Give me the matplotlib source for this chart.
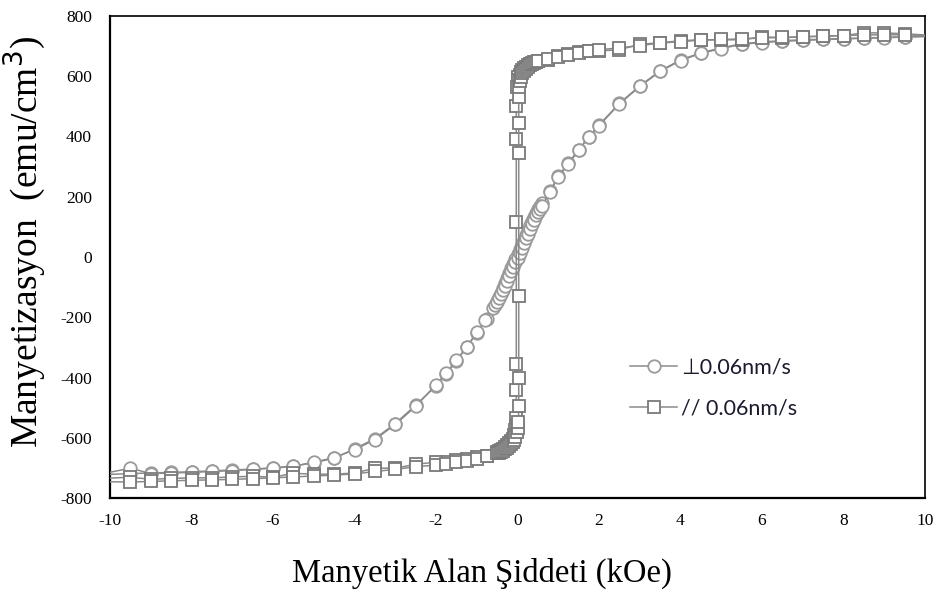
import matplotlib
matplotlib.use("Agg")
import matplotlib.pyplot as plt
from matplotlib.lines import Line2D

# Perpendicular sample (circles), field swept +10 -> -10
perp_x_down = [10.5, 9.5, 9, 8.5, 8, 7.5, 7, 6.5, 6, 5.5, 5, 4.5, 4, 3.5, 3, 2.5, 2, 1.75, 1.5, 1.25, 1,
               0.8, 0.6, 0.55, 0.5, 0.45, 0.4, 0.35, 0.3, 0.25, 0.2, 0.15, 0.1, 0.05, 0, -0.05, -0.1,
               -0.15, -0.2, -0.25, -0.3, -0.35, -0.4, -0.45, -0.5, -0.75, -1, -1.25, -1.5, -1.75, -2,
               -2.5, -3, -3.5, -4, -4.5, -5, -5.5, -6, -6.5, -7, -7.5, -8, -8.5, -9, -9.5, -10.5]
perp_y_down = [735, 731, 729, 727, 725, 723, 721, 718, 714, 708, 694, 678, 654, 618, 568, 510, 438, 399, 356, 312, 269,
               219, 178, 168, 158, 146, 133, 120, 105, 90, 74, 58, 42, 26, 10, -6, -22,
               -38, -54, -70, -86, -102, -118, -132, -146, -205, -252, -300, -345, -388, -428,
               -492, -553, -603, -637, -668, -683, -694, -700, -704, -707, -710, -713, -715, -717, -719, -724]

# Perpendicular sample (circles), field swept -10 -> +10
perp_x_up = [-10.5, -9.5, -9, -8.5, -8, -7.5, -7, -6.5, -6, -5.5, -5, -4.5, -4, -3.5, -3, -2.5, -2, -1.75, -1.5,
             -1.25, -1, -0.8, -0.6, -0.55, -0.5, -0.45, -0.4, -0.35, -0.3, -0.25, -0.2, -0.15, -0.1, -0.05,
             0, 0.05, 0.1, 0.15, 0.2, 0.25, 0.3, 0.35, 0.4, 0.45, 0.5, 0.55, 0.6, 0.8, 1, 1.25, 1.5, 1.75,
             2, 2.5, 3, 3.5, 4, 4.5, 5, 5.5, 6, 6.5, 7, 7.5, 8, 8.5, 9, 9.5, 10.5]
perp_y_up = [-728, -701, -719, -717, -715, -712, -709, -705, -701, -695, -681, -666, -640, -606, -556, -496, -424, -386, -342,
             -300, -250, -210, -168, -158, -148, -136, -123, -109, -95, -80, -64, -48, -32, -16,
             -2, 14, 30, 46, 62, 78, 94, 110, 124, 138, 150, 160, 170, 216, 266, 310, 354, 398,
             436, 508, 566, 616, 652, 676, 692, 706, 712, 716, 719, 722, 724, 726, 728, 730, 733]

# In-plane sample (squares), field swept +10 -> -10
par_x_down = [10.5, 9.5, 9, 8.5, 8, 7.5, 7, 6.5, 6, 5.5, 5, 4.5, 4, 3.5, 3, 2.5, 2, 1.75, 1.5, 1.25, 1, 0.75,
              0.5, 0.45, 0.4, 0.35, 0.3, 0.25, 0.2, 0.16, 0.12, 0.08, 0.05, 0.02, 0, -0.02, -0.03, -0.03,
              -0.03, -0.03, -0.03, -0.03, -0.04, -0.05, -0.08, -0.12, -0.16, -0.2, -0.25, -0.3, -0.35, -0.4,
              -0.45, -0.5, -0.75, -1, -1.25, -1.5, -1.75, -2, -2.5, -3, -3.5, -4, -4.5, -5, -5.5, -6,
              -6.5, -7, -7.5, -8, -8.5, -9, -9.5, -10.5]
par_y_down = [733, 741, 744, 744, 735, 733, 731, 728, 731, 721, 721, 721, 718, 711, 706, 688, 684, 684, 681, 674, 668, 654,
              650, 648, 646, 643, 640, 636, 632, 627, 621, 614, 605, 596, 588, 565, 502, 392,
              116, -355, -442, -535, -560, -575, -590, -603, -612, -618, -625, -630, -636, -641,
              -645, -648, -661, -665, -671, -675, -681, -681, -688, -701, -701, -717, -721, -721, -718, -731,
              -728, -730, -733, -733, -735, -738, -731, -737]

# In-plane sample (squares), field swept -10 -> +10
par_x_up = [-10.5, -9.5, -9, -8.5, -8, -7.5, -7, -6.5, -6, -5.5, -5, -4.5, -4, -3.5, -3, -2.5, -2, -1.75, -1.5,
            -1.25, -1, -0.75, -0.5, -0.45, -0.4, -0.35, -0.3, -0.25, -0.2, -0.16, -0.12, -0.08, -0.05,
            -0.02, 0, 0.02, 0.03, 0.03, 0.03, 0.03, 0.03, 0.03, 0.04, 0.05, 0.08, 0.12, 0.16, 0.2, 0.25,
            0.3, 0.35, 0.4, 0.45, 0.5, 0.75, 1, 1.25, 1.5, 1.75, 2, 2.5, 3, 3.5, 4, 4.5, 5, 5.5, 6,
            6.5, 7, 7.5, 8, 8.5, 9, 9.5, 10.5]
par_y_up = [-745, -747, -745, -743, -741, -740, -738, -736, -733, -730, -727, -724, -720, -712, -705, -696, -691, -686, -680,
            -676, -670, -662, -652, -650, -647, -643, -639, -634, -628, -622, -615, -606, -597,
            -582, -568, -548, -495, -402, -130, 345, 445, 532, 565, 585, 598, 610, 618, 625, 631,
            637, 641, 645, 648, 651, 656, 664, 672, 678, 683, 688, 694, 702, 710, 715, 720, 722, 724, 727,
            729, 731, 733, 735, 737, 738, 737, 734]

x_ticks = [-10, -8, -6, -4, -2, 0, 2, 4, 6, 8, 10]
y_ticks = [-800, -600, -400, -200, 0, 200, 400, 600, 800]

line_col = '#8a8a8a'
circ_col = '#9a9a9a'
sq_col = '#7a7a7a'

fig = plt.figure(figsize=(9.42, 5.92), dpi=100)
ax = fig.add_axes([110 / 942, 1 - 498 / 592, 815 / 942, 482 / 592])

circ_style = dict(color=line_col, lw=1.1, marker='o', ms=9, mfc='white', mec=circ_col, mew=1.3)
sq_style = dict(color=line_col, lw=1.1, marker='s', ms=9, mfc='white', mec=sq_col, mew=1.3)

ax.plot(perp_x_down, perp_y_down, zorder=3, **circ_style)
ax.plot(perp_x_up, perp_y_up, zorder=3, **circ_style)
ax.plot(par_x_down, par_y_down, zorder=4, **sq_style)
ax.plot(par_x_up, par_y_up, zorder=4, **sq_style)

ax.set_xlim(-10, 10)
ax.set_ylim(-800, 800)
ax.set_xticks(x_ticks)
ax.set_yticks(y_ticks)
ax.set_xticklabels([str(t) for t in x_ticks], family='Liberation Serif', fontsize=12.5)
ax.set_yticklabels([str(t) for t in y_ticks], family='Liberation Serif', fontsize=12.5)
ax.tick_params(axis='x', length=0, pad=11)
ax.tick_params(axis='y', length=0, pad=13)

for side in ['left', 'bottom']:
    ax.spines[side].set_linewidth(1.6)
for side in ['top', 'right']:
    ax.spines[side].set_linewidth(1.2)

# axis titles placed in figure pixels (x title sits left of the axes centre)
fig.text(482 / 942, 1 - 573 / 592, 'Manyetik Alan Şiddeti (kOe)', family='Liberation Serif',
         fontsize=23.5, ha='center', va='center')
fig.text(25 / 942, 1 - 242 / 592, 'Manyetizasyon  (emu/cm$^3$)', family='Liberation Serif',
         fontsize=27, rotation=90, ha='center', va='center')

handles = [
    Line2D([], [], **circ_style),
    Line2D([], [], **sq_style),
]
leg = ax.legend(handles, ['\u22a50.06nm/s', '// 0.06nm/s'], loc='upper left',
                bbox_to_anchor=(0.6276, 0.31), borderaxespad=0, frameon=False,
                handlelength=2.2, handletextpad=0.15, labelspacing=1.0,
                prop={'family': ['Lato', 'DejaVu Sans'], 'size': 15.5})
for t in leg.get_texts():
    t.set_color('#1a1a2e')

fig.savefig('out.png', dpi=100)
